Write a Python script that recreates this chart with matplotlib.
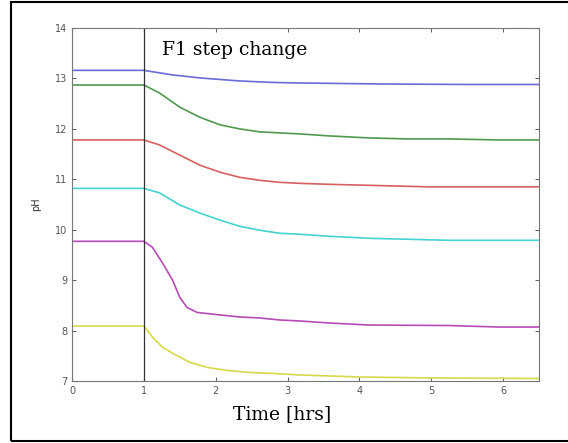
import matplotlib.pyplot as plt
from matplotlib.patches import Rectangle

# values
t_blue = [0, 1, 1.4, 1.78, 2.33, 2.8, 3.17, 4.28, 5.5, 6.5]
ph_blue = [13.16, 13.16, 13.07, 13.01, 12.95, 12.92, 12.91, 12.89, 12.88, 12.88]

t_green = [0, 1, 1.22, 1.5, 1.78, 2.06, 2.33, 2.61, 2.89, 3.17, 3.58, 4.14, 4.69, 5.25, 5.94, 6.5]
ph_green = [12.87, 12.87, 12.71, 12.43, 12.23, 12.08, 12.0, 11.94, 11.92, 11.9, 11.86, 11.82,
            11.8, 11.8, 11.78, 11.78]

t_red = [0, 1, 1.22, 1.5, 1.78, 2.06, 2.33, 2.61, 2.89, 3.17, 3.58, 4.14, 4.97, 6.5]
ph_red = [11.78, 11.78, 11.68, 11.48, 11.28, 11.14, 11.04, 10.98, 10.94, 10.92, 10.9, 10.88,
          10.85, 10.85]

t_cyan = [0, 1, 1.22, 1.5, 1.78, 2.06, 2.33, 2.61, 2.89, 3.17, 3.58, 4.14, 5.25, 6.5]
ph_cyan = [10.82, 10.82, 10.73, 10.49, 10.33, 10.19, 10.07, 9.99, 9.93, 9.91, 9.87, 9.83,
           9.79, 9.79]

t_magenta = [0, 1, 1.12, 1.26, 1.4, 1.5, 1.6, 1.74, 2.06, 2.33, 2.61, 2.89, 3.17, 3.58, 4.14,
             5.25, 5.94, 6.5]
ph_magenta = [9.77, 9.77, 9.65, 9.34, 9.0, 8.66, 8.46, 8.36, 8.31, 8.27, 8.25, 8.21, 8.19,
              8.15, 8.11, 8.1, 8.07, 8.07]

t_yellow = [0, 1, 1.12, 1.26, 1.4, 1.64, 1.88, 2.15, 2.47, 2.79, 3.17, 4.0, 5.0, 6.5]
ph_yellow = [8.09, 8.09, 7.87, 7.67, 7.55, 7.37, 7.27, 7.21, 7.17, 7.15, 7.12, 7.08, 7.06, 7.05]

series = [
    (t_blue, ph_blue, '#6a6ad8'),
    (t_green, ph_green, '#4f9a4f'),
    (t_red, ph_red, '#d86060'),
    (t_cyan, ph_cyan, '#45d2d2'),
    (t_magenta, ph_magenta, '#b84ab8'),
    (t_yellow, ph_yellow, '#d8d84a'),
]

fig = plt.figure(figsize=(5.68, 4.43), dpi=100)
ax = fig.add_axes([72 / 568, 1 - 381 / 443, (539 - 72) / 568, (381 - 28) / 443])

for t, ph, c in series:
    ax.plot(t, ph, color=c, linewidth=1.2)

ax.axvline(1, color='#333333', linewidth=0.9)

ax.set_xlim(0, 6.5)
ax.set_ylim(7, 14)
ax.set_xticks(range(0, 7))
ax.set_yticks(range(7, 15))
ax.tick_params(direction='in', top=True, right=True, labelsize=7,
               labelcolor='#555555', color='#666666', length=3)
for s in ax.spines.values():
    s.set_color('#777777')

ax.text(1.25, 13.57, 'F1 step change', family='DejaVu Serif', fontsize=13.5,
        va='center', ha='left')
ax.set_xlabel('Time [hrs]', family='DejaVu Serif', fontsize=13.5, va='center')
ax.xaxis.set_label_coords(0.45, -0.093)
ax.set_ylabel('pH', fontsize=7, color='#333333', labelpad=10)

# outer frame of the original picture
fig.patches.append(Rectangle((11 / 568, 2 / 443), 1.2, 439 / 443,
                             transform=fig.transFigure, fill=False,
                             edgecolor='black', linewidth=1.5))

fig.savefig('out.png', dpi=100)
